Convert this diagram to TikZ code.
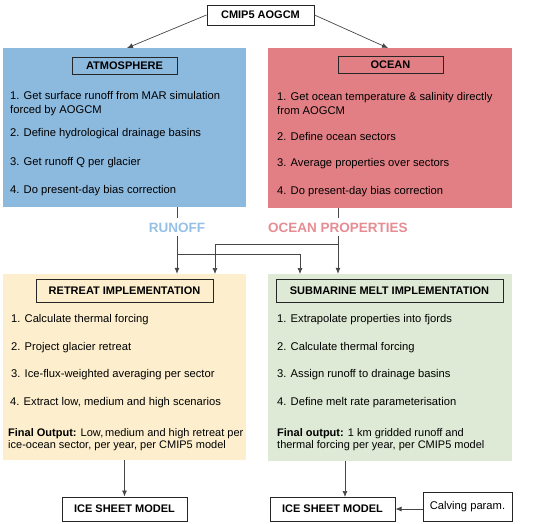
\documentclass[tikz,border=0pt]{standalone}
\usepackage{fontspec}
\setmainfont{Liberation Sans}
\usetikzlibrary{arrows.meta}
\definecolor{atmblue}{RGB}{140,185,222}
\definecolor{ocnred}{RGB}{225,127,133}
\definecolor{retyel}{RGB}{253,239,206}
\definecolor{subgrn}{RGB}{222,234,213}
\definecolor{runofftxt}{RGB}{150,192,230}
\definecolor{ocntxt}{RGB}{230,140,146}
\definecolor{linegray}{RGB}{70,70,70}
\begin{document}
\begin{tikzpicture}[x=1pt,y=-1pt,
  font=\fontsize{11.2}{14}\selectfont,
  panel/.style={draw=none, inner sep=0},
  titlebox/.style={draw=black!85, line width=1pt, inner sep=0,
    font=\fontsize{11}{13}\selectfont\bfseries},
  plainbox/.style={draw=black!85, line width=1pt, inner sep=0,
    font=\fontsize{11.2}{13}\selectfont},
  item/.style={anchor=west, inner sep=0, align=left},
  flowlabel/.style={font=\fontsize{13.5}{15}\selectfont\bfseries, inner sep=0,
    text height=10pt, text depth=0pt, outer sep=4pt},
  arr/.style={-{Latex[length=6pt,width=5pt]}, line width=0.7pt, draw=linegray},
  conn/.style={line width=0.7pt, draw=linegray}]
\useasboundingbox (0,0) rectangle (536,523);
% panels
\node[panel, fill=atmblue, minimum width=243pt, minimum height=159pt] (atm) at (124.5,127.5) {};
\node[panel, fill=ocnred, minimum width=244pt, minimum height=160pt] (ocn) at (390,128) {};
\node[panel, fill=retyel, minimum width=243pt, minimum height=186pt] (ret) at (124.5,367) {};
\node[panel, fill=subgrn, minimum width=244pt, minimum height=187pt] (sub) at (390,367.5) {};
% title boxes
\node[titlebox, minimum width=107pt, minimum height=20pt] (cmip) at (260.5,15) {CMIP5 AOGCM};
\node[titlebox, minimum width=105pt, minimum height=17pt] (atmt) at (124.5,65.5) {ATMOSPHERE};
\node[titlebox, minimum width=105pt, minimum height=17pt] (ocnt) at (390.5,64.5) {OCEAN};
\node[titlebox, minimum width=177pt, minimum height=23pt] (rett) at (124.5,290.5) {RETREAT IMPLEMENTATION};
\node[titlebox, minimum width=227pt, minimum height=23pt] (subt) at (389.5,290.5) {SUBMARINE MELT IMPLEMENTATION};
\node[titlebox, minimum width=125pt, minimum height=24pt] (ism1) at (124.5,509) {ICE SHEET MODEL};
\node[titlebox, minimum width=125pt, minimum height=24pt] (ism2) at (332.5,509) {ICE SHEET MODEL};
\node[plainbox, minimum width=89pt, minimum height=29pt] (calv) at (467.5,506.5) {Calving param.};
% atmosphere items
\node[item] (a1) at (10,104) {1. Get surface runoff from MAR simulation\\forced by AOGCM};
\node[item] (a2) at (10,134) {2. Define hydrological drainage basins};
\node[item] (a3) at (10,163) {3. Get runoff Q per glacier};
\node[item] (a4) at (10,191) {4. Do present-day bias correction};
% ocean items
\node[item] (o1) at (277,103) {1. Get ocean temperature \& salinity directly\\from AOGCM};
\node[item] (o2) at (277,136) {2. Define ocean sectors};
\node[item] (o3) at (277,164) {3. Average properties over sectors};
\node[item] (o4) at (277,192) {4. Do present-day bias correction};
% retreat items
\node[item] (r1) at (11,320) {1. Calculate thermal forcing};
\node[item] (r2) at (11,348) {2. Project glacier retreat};
\node[item] (r3) at (11,375) {3. Ice-flux-weighted averaging per sector};
\node[item] (r4) at (10,403) {4. Extract low, medium and high scenarios};
\node[item, font=\fontsize{11}{12.5}\selectfont] (r5) at (8,439.5) {\textbf{Final Output:} Low,\,medium and high retreat per\\ice-ocean sector, per year, per CMIP5 model};
% submarine items
\node[item] (s1) at (277,320) {1. Extrapolate properties into fjords};
\node[item] (s2) at (277,348) {2. Calculate thermal forcing};
\node[item] (s3) at (277,375) {3. Assign runoff to drainage basins};
\node[item] (s4) at (277,403) {4. Define melt rate parameterisation};
\node[item, font=\fontsize{11}{12.5}\selectfont] (s5) at (277,439.5) {\textbf{Final output:} 1 km gridded runoff and\\thermal forcing per year, per CMIP5 model};
% flow labels
\node[flowlabel, text=runofftxt] (runoff) at (177,227) {RUNOFF};
\node[flowlabel, text=ocntxt] (oprop) at (338,227) {OCEAN PROPERTIES};
% coordinates
\coordinate (atmin) at (127,48);
\coordinate (ocnin) at (388,48);
\coordinate (rj) at (177,254);
\coordinate (oj) at (338,244);
\coordinate (retin2) at (215,274);
\coordinate (subin1) at (300,274);
\coordinate (subout) at (345,461);
\coordinate (ism2in) at (345,497);
% connectors
\draw[arr] (cmip.west) -- (atmin);
\draw[arr] (cmip.east) -- (ocnin);
\draw[conn] (runoff.north |- atm.south) -- (runoff.north);
\draw[conn] (oprop.north |- ocn.south) -- (oprop.north);
\draw[arr] (runoff.south) -- (runoff.south |- ret.north);
\draw[arr] (oprop.south) -- (oprop.south |- sub.north);
\draw[arr] (rj) -| (subin1);
\draw[arr] (oj) -| (retin2);
\draw[arr] (ret.south) -- (ism1.north);
\draw[arr] (subout) -- (ism2in);
\draw[arr] (calv.west |- ism2.east) -- (ism2.east);
\end{tikzpicture}
\end{document}
